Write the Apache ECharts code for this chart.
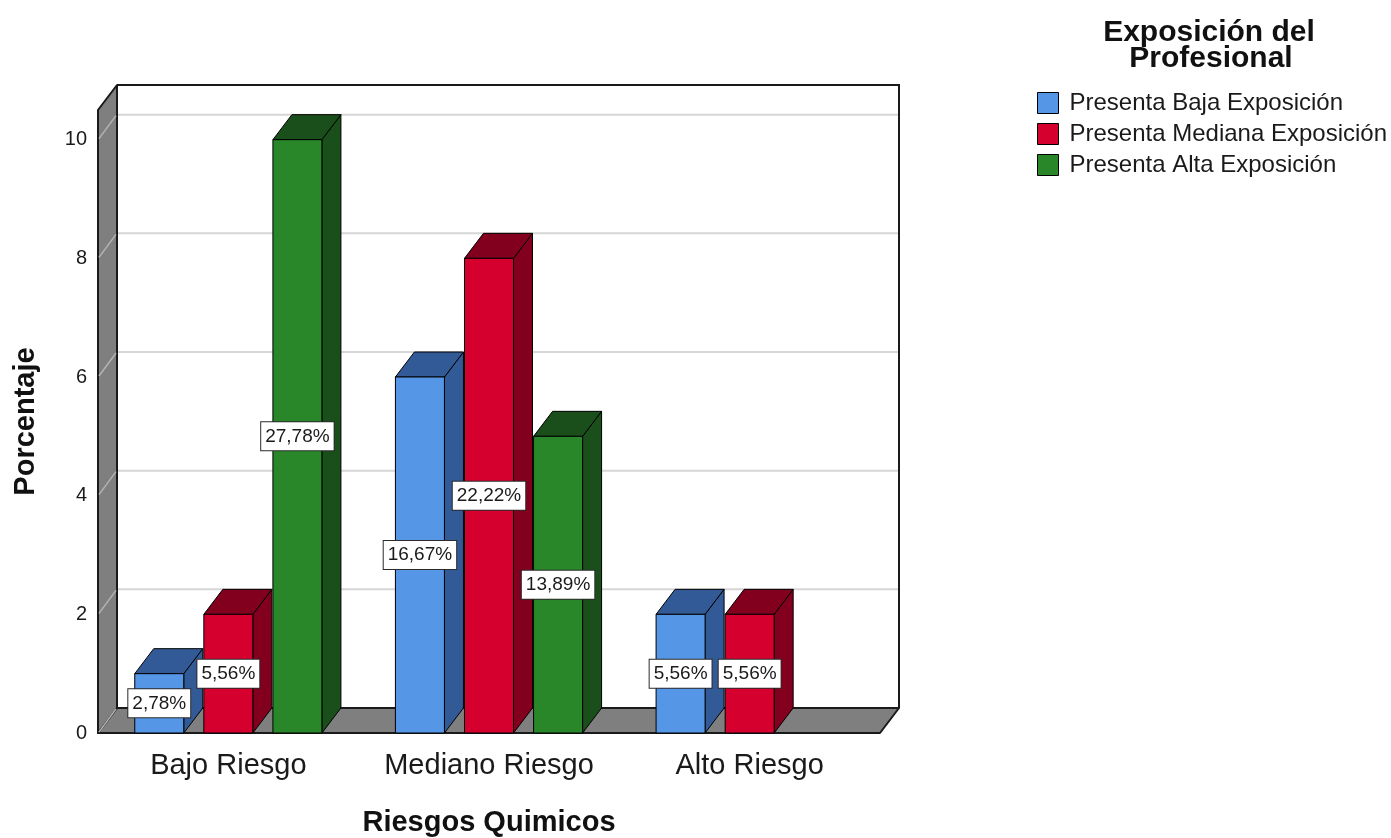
<!DOCTYPE html>
<html>
<head>
<meta charset="utf-8">
<script src="https://cdn.jsdelivr.net/npm/echarts@6/dist/echarts.min.js"></script>
<style>
  html, body { margin: 0; padding: 0; background: #ffffff; }
  #chart { width: 1391px; height: 838px; }
</style>
</head>
<body>
<div id="chart"></div>
<script>
// Categories, series and tick values
const categories = ['Bajo Riesgo', 'Mediano Riesgo', 'Alto Riesgo'];
const seriesNames = ['Presenta Baja Exposición', 'Presenta Mediana Exposición', 'Presenta Alta Exposición'];
const bajaExposicion = [1, 6, 2];
const medianaExposicion = [2, 8, 2];
const altaExposicion = [10, 5, 0];
const yTicks = [0, 2, 4, 6, 8, 10];
const legendTitle = ['Exposición del', 'Profesional'];

const seriesValues = [bajaExposicion, medianaExposicion, altaExposicion];
const total = seriesValues.flat().reduce((a, b) => a + b, 0);

// Styling for the pseudo-3D bars
const FRONT = ['#5596e6', '#d6002e', '#298729'];
const SHADE = ['#325a96', '#82001e', '#1a4e1a'];
const DX = 19, DY = -25;          // depth offset of the box
const BAR_W = 0.188;              // bar width as share of a category band
const BAR_STEP = 0.265;           // distance between bars as share of a band
const FONT = '"Liberation Sans", Arial, sans-serif';

function pct(v) {
  return (v / total * 100).toFixed(2).replace('.', ',') + '%';
}

function barGeom(api, ci, v, s) {
  const band = api.size([1, 0])[0];
  const base = api.coord([ci, 0]);
  const top = api.coord([ci, v]);
  const cx = base[0] + (s - 1) * BAR_STEP * band;
  const w = BAR_W * band;
  return { x0: cx - w / 2, x1: cx + w / 2, y0: top[1], y1: base[1], w: w, cx: cx };
}

function barRenderer(s) {
  return function (params, api) {
    const v = api.value(1);
    if (!v) return null;
    const g = barGeom(api, api.value(0), v, s);
    const line = { stroke: '#000', lineWidth: 1 };
    return {
      type: 'group',
      children: [
        { type: 'polygon', shape: { points: [[g.x1, g.y0], [g.x1 + DX, g.y0 + DY], [g.x1 + DX, g.y1 + DY], [g.x1, g.y1]] },
          style: Object.assign({ fill: SHADE[s] }, line) },
        { type: 'polygon', shape: { points: [[g.x0, g.y0], [g.x0 + DX, g.y0 + DY], [g.x1 + DX, g.y0 + DY], [g.x1, g.y0]] },
          style: Object.assign({ fill: SHADE[s] }, line) },
        { type: 'rect', shape: { x: g.x0, y: g.y0, width: g.w, height: g.y1 - g.y0 },
          style: Object.assign({ fill: FRONT[s] }, line) }
      ]
    };
  };
}

function labelRenderer(params, api) {
  const v = api.value(1);
  if (!v) return null;
  const s = api.value(2);
  const g = barGeom(api, api.value(0), v, s);
  return {
    type: 'text',
    style: {
      text: pct(v),
      x: g.cx, y: (g.y0 + g.y1) / 2,
      align: 'center', verticalAlign: 'middle',
      font: '19px ' + FONT,
      fill: '#1a1a1a',
      backgroundColor: '#ffffff',
      borderColor: '#2a2a2a', borderWidth: 1,
      padding: [5, 4, 4, 4]
    }
  };
}

function frameRenderer(params, api) {
  const cs = params.coordSys;
  const xl = cs.x, xr = cs.x + cs.width, yt = cs.y, yb = cs.y + cs.height;
  const children = [];
  // back wall
  children.push({ type: 'rect', shape: { x: xl + DX, y: yt + DY, width: xr - xl, height: yb - yt },
    style: { fill: '#ffffff' } });
  yTicks.forEach(t => {
    const y = api.coord([0, t])[1];
    if (t > 0) {
      children.push({ type: 'line', shape: { x1: xl + DX, y1: y + DY, x2: xr + DX, y2: y + DY },
        style: { stroke: '#d6d6d6', lineWidth: 2 } });
    }
  });
  // floor
  children.push({ type: 'polygon', shape: { points: [[xl, yb], [xr, yb], [xr + DX, yb + DY], [xl + DX, yb + DY]] },
    style: { fill: '#7f7f7f', stroke: '#1a1a1a', lineWidth: 2, lineJoin: 'round' } });
  // left wall
  children.push({ type: 'polygon', shape: { points: [[xl, yb], [xl, yt], [xl + DX, yt + DY], [xl + DX, yb + DY]] },
    style: { fill: '#7f7f7f', stroke: '#1a1a1a', lineWidth: 2, lineJoin: 'round' } });
  yTicks.forEach(t => {
    const y = api.coord([0, t])[1];
    children.push({ type: 'line', shape: { x1: xl + 1, y1: y - 1, x2: xl + DX - 1, y2: y + DY + 1 },
      style: { stroke: '#b4b4b4', lineWidth: 1.5 } });
  });
  // back wall top and right edges
  children.push({ type: 'polyline', shape: { points: [[xl + DX, yt + DY], [xr + DX, yt + DY], [xr + DX, yb + DY]] },
    style: { stroke: '#1a1a1a', lineWidth: 2, fill: null } });
  return { type: 'group', children: children };
}

const labelData = [];
seriesValues.forEach((arr, s) => arr.forEach((v, i) => labelData.push([i, v, s])));

const chart = echarts.init(document.getElementById('chart'), null, { renderer: 'canvas' });

const series = [
  { type: 'custom', name: '__frame', renderItem: frameRenderer, data: [[0, 0]], z: 1, silent: true }
];
seriesValues.forEach((arr, s) => {
  series.push({
    type: 'custom',
    name: seriesNames[s],
    renderItem: barRenderer(s),
    itemStyle: { color: FRONT[s] },
    data: arr.map((v, i) => [i, v]),
    encode: { x: 0, y: 1 },
    z: 2
  });
});
series.push({ type: 'custom', name: '__labels', renderItem: labelRenderer, data: labelData,
  encode: { x: 0, y: 1 }, z: 5, silent: true });

chart.setOption({
  animation: false,
  backgroundColor: '#ffffff',
  textStyle: { fontFamily: FONT },
  grid: { left: 98, right: 511, top: 110, bottom: 105, containLabel: false, outerBoundsMode: 'none' },
  xAxis: {
    type: 'category',
    data: categories,
    axisLine: { show: false },
    axisTick: { show: false },
    splitLine: { show: false },
    axisLabel: { fontSize: 29, color: '#1a1a1a', margin: 18, fontFamily: FONT, interval: 0, hideOverlap: false },
    name: 'Riesgos Quimicos',
    nameLocation: 'middle',
    nameGap: 75,
    nameTextStyle: { fontSize: 29, fontWeight: 'bold', color: '#111', fontFamily: FONT }
  },
  yAxis: {
    type: 'value',
    min: 0,
    max: 10.5,
    interval: 2,
    axisLine: { show: false },
    axisTick: { show: false },
    splitLine: { show: false },
    axisLabel: {
      fontSize: 20, color: '#1a1a1a', margin: 11, fontFamily: FONT,
      formatter: v => (yTicks.indexOf(v) >= 0 ? String(v) : '')
    },
    name: 'Porcentaje',
    nameLocation: 'middle',
    nameGap: 58,
    nameRotate: 90,
    nameTextStyle: { fontSize: 29, fontWeight: 'bold', color: '#111', fontFamily: FONT }
  },
  legend: {
    data: seriesNames,
    orient: 'vertical',
    left: 1037,
    top: 91,
    padding: 0,
    icon: 'rect',
    itemWidth: 21,
    itemHeight: 21,
    itemGap: 7,
    itemStyle: { borderColor: '#000', borderWidth: 1 },
    textStyle: { fontSize: 24, color: '#1a1a1a', fontFamily: FONT, padding: [0, 0, 0, 6], lineHeight: 24 },
    selectedMode: false
  },
  graphic: [
    { type: 'text', x: 1209, y: 33, style: { text: legendTitle[0], x: 0, y: 0, align: 'center', verticalAlign: 'middle',
      font: 'bold 30px ' + FONT, fill: '#111' } },
    { type: 'text', x: 1211, y: 59, style: { text: legendTitle[1], x: 0, y: 0, align: 'center', verticalAlign: 'middle',
      font: 'bold 30px ' + FONT, fill: '#111' } }
  ],
  series: series
});
</script>
</body>
</html>
